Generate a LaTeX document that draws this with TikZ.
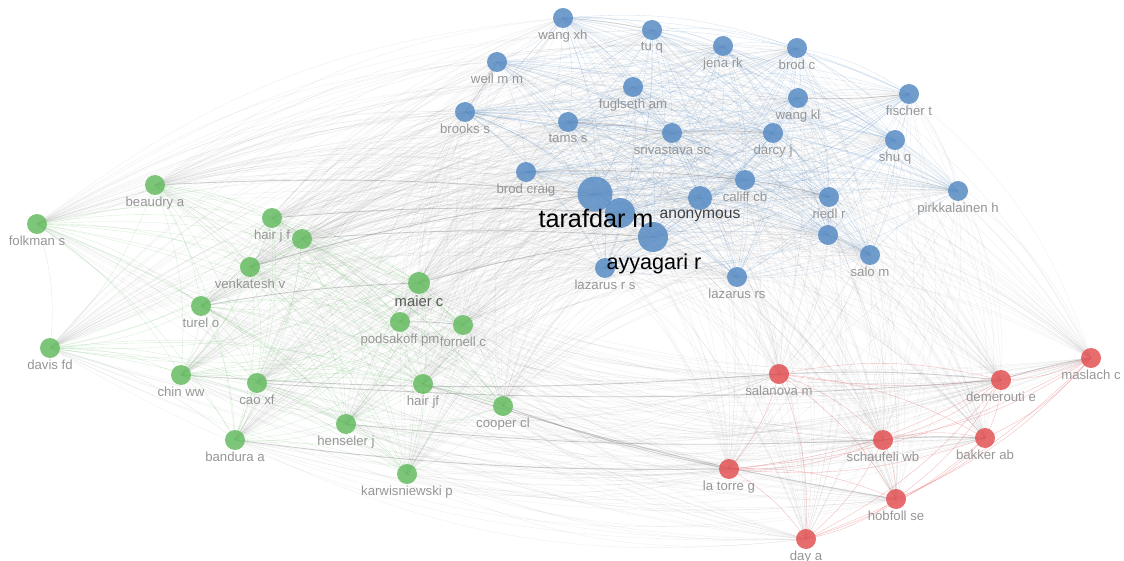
\documentclass[tikz,border=0pt]{standalone}
\usepackage{fontspec}
\setmainfont{Liberation Sans}
\usetikzlibrary{backgrounds}

\definecolor{vosblue}{RGB}{88,140,196}
\definecolor{vosgreen}{RGB}{102,188,98}
\definecolor{vosred}{RGB}{226,82,84}
\definecolor{lblgray}{RGB}{150,150,150}
\definecolor{edgegray}{RGB}{120,120,120}

\tikzset{
  vos/.style={circle,inner sep=0pt,minimum size=10pt,fill opacity=0.85,label distance=-1.6pt},
  bnode/.style={vos,fill=vosblue},
  gnode/.style={vos,fill=vosgreen},
  rnode/.style={vos,fill=vosred},
  lbl/.style={text=lblgray,font=\fontsize{6.6}{7}\selectfont,inner sep=0.5pt},
  grayedge/.style={edgegray,line width=0.18pt,opacity=0.13},
  blueedge/.style={vosblue,line width=0.18pt,opacity=0.25},
  greenedge/.style={vosgreen,line width=0.18pt,opacity=0.25},
  rededge/.style={vosred,line width=0.18pt,opacity=0.4},
  strongedge/.style={edgegray,line width=0.45pt,opacity=0.35}
}

\def\bluelist{wangxh,tuq,jenark,brodc,weilmm,fuglsetham,wangkl,fischert,brookss,tamss,srivastavasc,darcyj,shuq,brodcraig,tarafdarm,bigtwo,ayyagarir,anonymous,califfcb,riedlr,bluex,salom,pirkkalainenh,lazarusrsa,lazarusrsb}
\def\greenlist{beaudrya,folkmans,hairjfa,greenx,venkateshv,maierc,turelo,podsakoffpm,fornellc,davisfd,chinww,caoxf,hairjfb,coopercl,henselerj,banduraa,karwisniewskip}
\def\redlist{maslachc,salanovam,demeroutie,schaufeliwb,bakkerab,latorreg,hobfollse,daya}

\begin{document}
\begin{tikzpicture}[x=0.5pt,y=-0.5pt]
    \useasboundingbox (0,0) rectangle (1124,561);

    % blue cluster
    \node[bnode,label={[lbl]below:wang xh}] (wangxh) at (563,18) {};
    \node[bnode,label={[lbl]below:tu q}] (tuq) at (652,30) {};
    \node[bnode,label={[lbl]below:jena rk}] (jenark) at (723,46) {};
    \node[bnode,label={[lbl]below:brod c}] (brodc) at (797,48) {};
    \node[bnode,label={[lbl]below:weil m m}] (weilmm) at (497,62) {};
    \node[bnode,label={[lbl]below:fuglseth am}] (fuglsetham) at (633,87) {};
    \node[bnode,label={[lbl]below:wang kl}] (wangkl) at (798,98) {};
    \node[bnode,label={[lbl]below:fischer t}] (fischert) at (909,94) {};
    \node[bnode,label={[lbl]below:brooks s}] (brookss) at (465,112) {};
    \node[bnode,label={[lbl]below:tams s}] (tamss) at (568,122) {};
    \node[bnode,label={[lbl]below:srivastava sc}] (srivastavasc) at (672,133) {};
    \node[bnode,label={[lbl]below:darcy j}] (darcyj) at (773,133) {};
    \node[bnode,label={[lbl]below:shu q}] (shuq) at (895,140) {};
    \node[bnode,label={[lbl]below:brod craig}] (brodcraig) at (526,172) {};
    \node[bnode,minimum size=17.5pt] (tarafdarm) at (595,194) {};
    \node[bnode,minimum size=15pt] (bigtwo) at (620,213) {};
    \node[bnode,minimum size=15pt] (ayyagarir) at (653,237) {};
    \node[bnode,minimum size=12pt] (anonymous) at (700,198) {};
    \node[bnode,label={[lbl]below:califf cb}] (califfcb) at (745,180) {};
    \node[bnode,label={[lbl]below:riedl r}] (riedlr) at (829,197) {};
    \node[bnode] (bluex) at (828,235) {};
    \node[bnode,label={[lbl]below:salo m}] (salom) at (870,255) {};
    \node[bnode,label={[lbl]below:pirkkalainen h}] (pirkkalainenh) at (958,191) {};
    \node[bnode,label={[lbl]below:lazarus r s}] (lazarusrsa) at (605,268) {};
    \node[bnode,label={[lbl]below:lazarus rs}] (lazarusrsb) at (737,277) {};

    \node[font=\fontsize{12.6}{14}\selectfont,inner sep=0pt] (tarafdarlbl) at (596,218) {tarafdar m};
    \node[font=\fontsize{10.8}{12}\selectfont,inner sep=0pt] (ayyagarilbl) at (654,264) {ayyagari r};
    \node[font=\fontsize{7.8}{9}\selectfont,text=black!75,inner sep=0pt] (anonymouslbl) at (700,216) {anonymous};

    % green cluster
    \node[gnode,label={[lbl]below:beaudry a}] (beaudrya) at (155,185) {};
    \node[gnode,label={[lbl]below:folkman s}] (folkmans) at (37,224) {};
    \node[gnode,label={[lbl]below:hair j f}] (hairjfa) at (272,218) {};
    \node[gnode] (greenx) at (302,239) {};
    \node[gnode,label={[lbl]below:venkatesh v}] (venkateshv) at (250,267) {};
    \node[gnode,minimum size=11pt,label={[lbl,text=black!65,font=\fontsize{7.4}{8}\selectfont]below:maier c}] (maierc) at (419,283) {};
    \node[gnode,label={[lbl]below:turel o}] (turelo) at (201,306) {};
    \node[gnode,label={[lbl]below:podsakoff pm}] (podsakoffpm) at (400,322) {};
    \node[gnode,label={[lbl]below:fornell c}] (fornellc) at (463,325) {};
    \node[gnode,label={[lbl]below:davis fd}] (davisfd) at (50,348) {};
    \node[gnode,label={[lbl]below:chin ww}] (chinww) at (181,375) {};
    \node[gnode,label={[lbl]below:cao xf}] (caoxf) at (257,383) {};
    \node[gnode,label={[lbl]below:hair jf}] (hairjfb) at (423,384) {};
    \node[gnode,label={[lbl]below:cooper cl}] (coopercl) at (503,406) {};
    \node[gnode,label={[lbl]below:henseler j}] (henselerj) at (346,424) {};
    \node[gnode,label={[lbl]below:bandura a}] (banduraa) at (235,440) {};
    \node[gnode,label={[lbl]below:karwisniewski p}] (karwisniewskip) at (407,474) {};

    % red cluster
    \node[rnode,label={[lbl]below:maslach c}] (maslachc) at (1091,358) {};
    \node[rnode,label={[lbl]below:salanova m}] (salanovam) at (779,374) {};
    \node[rnode,label={[lbl]below:demerouti e}] (demeroutie) at (1001,380) {};
    \node[rnode,label={[lbl]below:schaufeli wb}] (schaufeliwb) at (883,440) {};
    \node[rnode,label={[lbl]below:bakker ab}] (bakkerab) at (985,438) {};
    \node[rnode,label={[lbl]below:la torre g}] (latorreg) at (729,469) {};
    \node[rnode,label={[lbl]below:hobfoll se}] (hobfollse) at (896,499) {};
    \node[rnode,label={[lbl]below:day a}] (daya) at (806,539) {};

    \begin{pgfonlayer}{background}
        % links between clusters (curved clockwise)
        \foreach \a in \greenlist {
            \foreach \b in \bluelist {\draw[grayedge] (\a.center) to[bend left=16] (\b.center);}
        }
        \foreach \a in \bluelist {
            \foreach \b in \redlist {\draw[grayedge] (\a.center) to[bend left=16] (\b.center);}
        }
        \foreach \a in \redlist {
            \foreach \b in \greenlist {\draw[grayedge] (\a.center) to[bend left=16] (\b.center);}
        }
        % links inside clusters
        \foreach \a [count=\i] in \bluelist {
            \foreach \b [count=\j] in \bluelist {\ifnum\j>\i \draw[blueedge] (\a.center) to[bend left=12] (\b.center);\fi}
        }
        \foreach \a [count=\i] in \greenlist {
            \foreach \b [count=\j] in \greenlist {\ifnum\j>\i \draw[greenedge] (\a.center) to[bend left=12] (\b.center);\fi}
        }
        \foreach \a [count=\i] in \redlist {
            \foreach \b [count=\j] in \redlist {\ifnum\j>\i \draw[rededge] (\a.center) to[bend left=12] (\b.center);\fi}
        }
        % strong links
        \foreach \a/\b in {beaudrya/tarafdarm,hairjfa/bigtwo,greenx/ayyagarir,venkateshv/tarafdarm,turelo/maierc,
                           maierc/ayyagarir,podsakoffpm/fornellc,salanovam/chinww,demeroutie/caoxf,schaufeliwb/henselerj,
                           latorreg/banduraa,salanovam/demeroutie,schaufeliwb/bakkerab,latorreg/coopercl,hobfollse/hairjfb,
                           fischert/wangkl,califfcb/riedlr,bluex/salom,brodcraig/califfcb,tamss/srivastavasc,srivastavasc/darcyj,
                           demeroutie/maslachc,wangxh/tuq,weilmm/brookss}
            {\draw[strongedge] (\a.center) to[bend left=4] (\b.center);}
    \end{pgfonlayer}

\end{tikzpicture}
\end{document}
